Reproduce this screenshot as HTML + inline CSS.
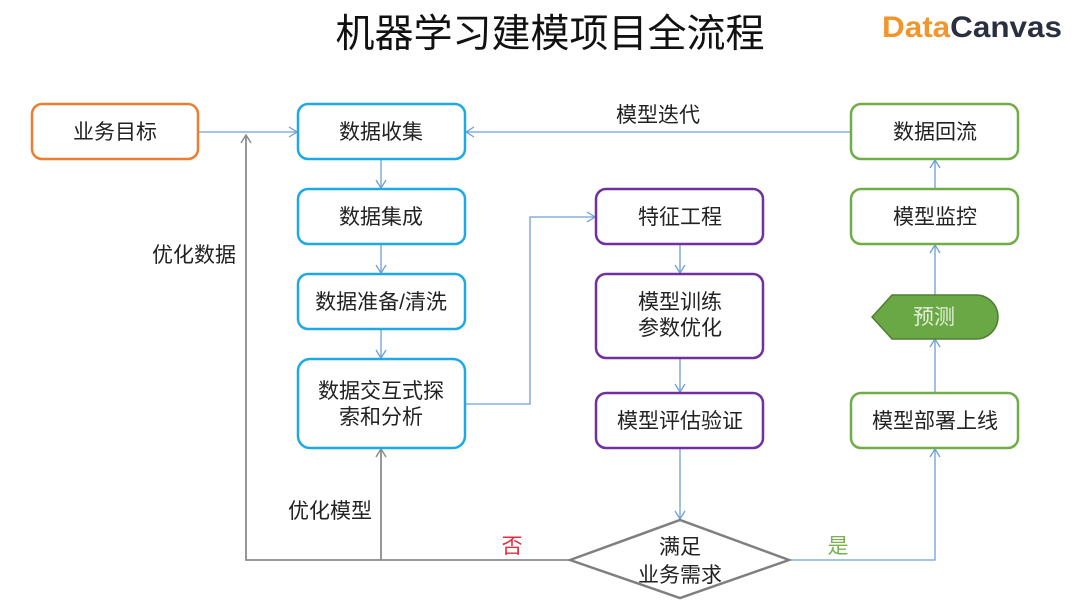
<!DOCTYPE html>
<html><head><meta charset="utf-8"><style>
html,body{margin:0;padding:0;background:#fff;}
svg{display:block;}
text{font-family:"Liberation Sans","Noto Sans CJK SC",sans-serif;}
</style></head><body>
<svg width="1080" height="616" viewBox="0 0 1080 616" xmlns="http://www.w3.org/2000/svg">
<defs>
<marker id="ab" markerWidth="12" markerHeight="12" refX="10" refY="6" orient="auto" markerUnits="userSpaceOnUse"><path d="M2,1 L10,6 L2,11" fill="none" stroke="#6f9fd8" stroke-width="1.3"/></marker>
<marker id="ag" markerWidth="12" markerHeight="12" refX="10" refY="6" orient="auto" markerUnits="userSpaceOnUse"><path d="M2,1 L10,6 L2,11" fill="none" stroke="#8c8c8c" stroke-width="1.5"/></marker>
</defs>
<text x="550" y="47" font-size="39" text-anchor="middle" fill="#111">机器学习建模项目全流程</text>
<text x="882" y="37" font-size="30" font-weight="bold" fill="#f0962d" font-family="Liberation Sans,sans-serif" textLength="180" lengthAdjust="spacingAndGlyphs">Data<tspan fill="#2b3040">Canvas</tspan></text>

<g fill="none" stroke="#6f9fd8" stroke-width="1.3">
<line x1="198" y1="132" x2="297" y2="132" marker-end="url(#ab)"/>
<line x1="851" y1="132" x2="466" y2="132" marker-end="url(#ab)"/>
<line x1="381" y1="159" x2="381" y2="188" marker-end="url(#ab)"/>
<line x1="381" y1="244" x2="381" y2="273" marker-end="url(#ab)"/>
<line x1="381" y1="329" x2="381" y2="358" marker-end="url(#ab)"/>
<polyline points="465,404 530,404 530,217 595,217" marker-end="url(#ab)"/>
<line x1="680" y1="244" x2="680" y2="273" marker-end="url(#ab)"/>
<line x1="680" y1="358" x2="680" y2="392" marker-end="url(#ab)"/>
<line x1="680" y1="448" x2="680" y2="519" marker-end="url(#ab)"/>
<polyline points="789,560 935,560 935,449" marker-end="url(#ab)"/>
<line x1="935" y1="393" x2="935" y2="339" marker-end="url(#ab)"/>
<line x1="935" y1="295" x2="935" y2="245" marker-end="url(#ab)"/>
<line x1="935" y1="189" x2="935" y2="160" marker-end="url(#ab)"/>
</g>
<g fill="none" stroke="#8c8c8c" stroke-width="1.8">
<polyline points="570,560 246,560 246,135" marker-end="url(#ag)"/>
<line x1="381" y1="560" x2="381" y2="449" marker-end="url(#ag)"/>
</g>

<g stroke-width="2.5" fill="#fff">
<rect x="32" y="104" width="166" height="55" rx="10" stroke="#ed7d31"/>
<rect x="298" y="104" width="167" height="55" rx="10" stroke="#1ca9e6"/>
<rect x="298" y="189" width="167" height="55" rx="10" stroke="#1ca9e6"/>
<rect x="298" y="274" width="167" height="55" rx="10" stroke="#1ca9e6"/>
<rect x="298" y="359" width="167" height="89" rx="12" stroke="#1ca9e6"/>
<rect x="596" y="189" width="167" height="55" rx="10" stroke="#7030a0"/>
<rect x="596" y="274" width="167" height="84" rx="10" stroke="#7030a0"/>
<rect x="596" y="393" width="167" height="55" rx="10" stroke="#7030a0"/>
<rect x="851" y="104" width="167" height="55" rx="10" stroke="#70ad47"/>
<rect x="851" y="189" width="167" height="55" rx="10" stroke="#70ad47"/>
<rect x="851" y="393" width="167" height="55" rx="10" stroke="#70ad47"/>
</g>
<path d="M872,317 L892,295 L976,295 A22,22 0 0 1 976,339 L892,339 Z" fill="#6aa846" stroke="#4f7f33" stroke-width="1.5"/>
<polygon points="570,560 680,520 789,560 680,598" fill="#fff" stroke="#7f7f7f" stroke-width="2.5"/>

<g font-size="21" fill="#222" text-anchor="middle">
<text x="381" y="139">数据收集</text>
<text x="115" y="139">业务目标</text>
<text x="381" y="224">数据集成</text>
<text x="381" y="309">数据准备/清洗</text>
<text x="381" y="398">数据交互式探</text>
<text x="381" y="424">索和分析</text>
<text x="680" y="224">特征工程</text>
<text x="680" y="309">模型训练</text>
<text x="680" y="335">参数优化</text>
<text x="680" y="428">模型评估验证</text>
<text x="935" y="139">数据回流</text>
<text x="935" y="224">模型监控</text>
<text x="935" y="428">模型部署上线</text>
<text x="934" y="324" fill="#e2f0d9">预测</text>
<text x="680" y="554">满足</text>
<text x="680" y="582">业务需求</text>
<text x="658" y="122">模型迭代</text>
<text x="194" y="262">优化数据</text>
<text x="330" y="518">优化模型</text>
<text x="512" y="553" fill="#e03040">否</text>
<text x="838" y="553" fill="#7ab050">是</text>
</g>
</svg>
</body></html>
